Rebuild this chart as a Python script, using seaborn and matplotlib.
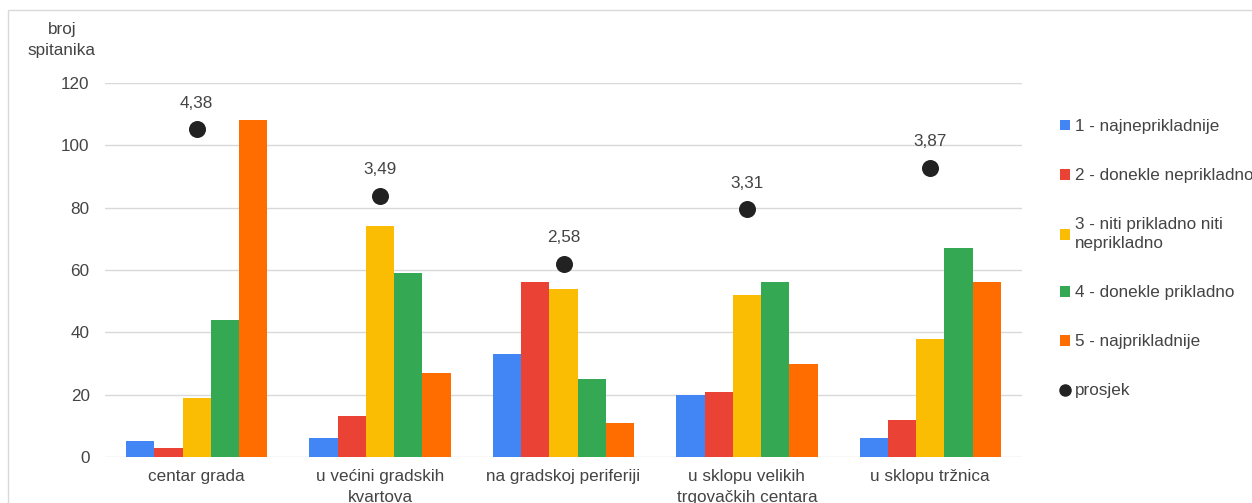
import numpy as np
import pandas as pd
import matplotlib
matplotlib.use("Agg")
import matplotlib.pyplot as plt
from matplotlib.patches import Rectangle, Patch
from matplotlib.lines import Line2D
import seaborn as sns

categories = ["centar grada", "u većini gradskih\nkvartova", "na gradskoj periferiji",
              "u sklopu velikih\ntrgovačkih centara", "u sklopu tržnica"]
series = ["1 - najneprikladnije", "2 - donekle neprikladno",
          "3 - niti prikladno niti\nneprikladno", "4 - donekle prikladno",
          "5 - najprikladnije"]
s1 = [5, 6, 33, 20, 6]
s2 = [3, 13, 56, 21, 12]
s3 = [19, 74, 54, 52, 38]
s4 = [44, 59, 25, 56, 67]
s5 = [108, 27, 11, 30, 56]
prosjek = [4.38, 3.49, 2.58, 3.31, 3.87]
avg_labels = ["4,38", "3,49", "2,58", "3,31", "3,87"]
yticks = [0, 20, 40, 60, 80, 100, 120]

colors = ["#4285F4", "#EA4335", "#FBBC04", "#34A853", "#FF6D01"]
text_color = "#444444"

rows = []
for sname, vals in zip(series, [s1, s2, s3, s4, s5]):
    for c, v in zip(categories, vals):
        rows.append({"kategorija": c, "serija": sname, "broj": v})
df = pd.DataFrame(rows)

sns.set_theme(style="white")
plt.rcParams['font.family'] = ['Liberation Sans', 'DejaVu Sans']

W, H = 1252, 503
fig = plt.figure(figsize=(W / 100, H / 100), dpi=100)
ax = fig.add_axes([105 / W, 1 - 457 / H, (1022 - 105) / W, (457 - 83) / H])

sns.barplot(data=df, x="kategorija", y="broj", hue="serija", order=categories,
            hue_order=series, palette=colors, saturation=1, width=0.77,
            ax=ax, legend=False, linewidth=0)

ax.set_ylim(0, 120)
ax.set_yticks(yticks)
ax.set_xlim(-0.5, len(categories) - 0.5)
ax.grid(axis="y", color="#d9d9d9", linewidth=1)
ax.set_axisbelow(True)
for sp in ax.spines.values():
    sp.set_visible(False)
ax.tick_params(axis="y", length=0, pad=11, labelsize=12.3, labelcolor=text_color)
ax.tick_params(axis="x", length=0, pad=9, labelsize=12.3, labelcolor=text_color)
for lab in ax.get_xticklabels():
    lab.set_linespacing(1.45)
ax.set_xlabel("")
ax.set_ylabel("broj\nspitanika", rotation=0, fontsize=12.3, color=text_color,
              ha="center", va="center", linespacing=1.5)
ax.yaxis.set_label_coords(-0.047, 1.116)

ax2 = ax.twinx()
ax2.set_ylim(0, 5)
ax2.set_yticks([])
for sp in ax2.spines.values():
    sp.set_visible(False)
xpos = np.arange(len(categories))
ax2.scatter(xpos, prosjek, s=150, color="#222222", zorder=5, linewidths=0)
for x, v, lab in zip(xpos, prosjek, avg_labels):
    ax2.annotate(lab, (x, v), xytext=(0, 18.8), textcoords="offset points",
                 ha="center", va="center", fontsize=12.3, color=text_color)

handles = [Patch(facecolor=c, edgecolor="none") for c in colors]
handles.append(Line2D([], [], marker="o", linestyle="none", color="#222222",
                      markersize=8))
labels = series + ["prosjek"]
leg = fig.legend(handles, labels, loc="upper left",
                 bbox_to_anchor=(1060 / W, 1 - 119 / H), frameon=False,
                 fontsize=12.3, labelcolor=text_color, handlelength=0.6,
                 handleheight=0.6, handletextpad=0.3, labelspacing=2.0,
                 borderpad=0, borderaxespad=0)
for t in leg.get_texts():
    t.set_linespacing(1.3)

fig.patches.append(Rectangle((8 / W, -0.1), 2, 1 - 10 / H + 0.1,
                             transform=fig.transFigure, fill=False,
                             edgecolor="#d9d9d9", linewidth=1))

fig.savefig("out.png", dpi=100)
